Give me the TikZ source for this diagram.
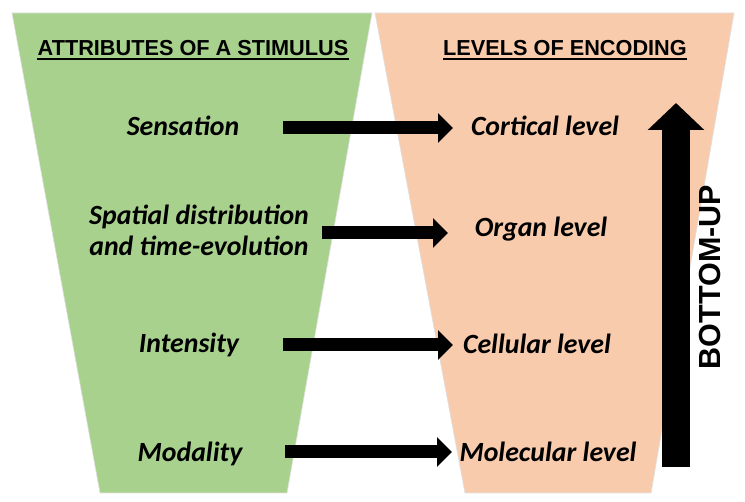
\documentclass[tikz,border=0pt]{standalone}
\usepackage{fontspec}
\newfontfamily\hdrfont{Liberation Sans}
\newfontfamily\bodyfont{Carlito}
\usetikzlibrary{arrows.meta}
\definecolor{grn}{HTML}{A9D18E}
\definecolor{org}{HTML}{F8CBAD}
\begin{document}
\begin{tikzpicture}[x=1pt,y=-1pt,
  hdr/.style={font=\hdrfont\bfseries\fontsize{21.7}{24}\selectfont, inner sep=0pt},
  lbl/.style={font=\bodyfont\bfseries\itshape\fontsize{27.8}{31}\selectfont, inner sep=0pt, align=center, anchor=base},
  blk/.style={line width=13pt, -{Triangle[length=15pt,width=29pt]}},
  bigblk/.style={line width=28pt, -{Triangle[length=27pt,width=55pt]}},
  panel/.style={draw=black!12, line width=0.6pt}]
\useasboundingbox (0,0) rectangle (745,502);
\fill[white] (0,0) rectangle (745,502);
\filldraw[panel, fill=grn] (12,13) -- (372,13) -- (287,493) -- (100,493) -- cycle;
\filldraw[panel, fill=org] (375,13) -- (734,13) -- (651,493) -- (465,493) -- cycle;
% headers
\node[hdr] (h1) at (193,48) {ATTRIBUTES OF A STIMULUS};
\node[hdr] (h2) at (565,48) {LEVELS OF ENCODING};
\draw[line width=1.4pt] ([yshift=-3pt]h1.south west) -- ([yshift=-3pt]h1.south east);
\draw[line width=1.4pt] ([yshift=-3pt]h2.south west) -- ([yshift=-3pt]h2.south east);
% left labels
\node[lbl] (sens) at (183,136) {Sensation};
\node[lbl] (spat) at (199,256) {Spatial distribution\\and time-evolution};
\node[lbl] (inte) at (189,353) {Intensity};
\node[lbl] (moda) at (190,462) {Modality};
% right labels
\node[lbl] (cort) at (545,136) {Cortical level};
\node[lbl] (orga) at (541,237) {Organ level};
\node[lbl] (cell) at (537,354) {Cellular level};
\node[lbl] (mole) at (548,462) {Molecular level};
% arrow ends
\coordinate (a1s) at (283,128); \coordinate (a1e) at (453,128);
\coordinate (a2s) at (322,233); \coordinate (a2e) at (448,233);
\coordinate (a3s) at (283,345); \coordinate (a3e) at (453,345);
\coordinate (a4s) at (285,452); \coordinate (a4e) at (452,452);
\draw[blk] (a1s) -- (a1e);
\draw[blk] (a2s) -- (a2e);
\draw[blk] (a3s) -- (a3e);
\draw[blk] (a4s) -- (a4e);
% bottom-up
\coordinate (bus) at (676,467); \coordinate (bue) at (676,103);
\draw[bigblk] (bus) -- (bue);
\node[font=\hdrfont\bfseries\fontsize{30.5}{32}\selectfont, inner sep=0pt, rotate=90] (bu) at (710,277) {BOTTOM-UP};
\end{tikzpicture}
\end{document}
